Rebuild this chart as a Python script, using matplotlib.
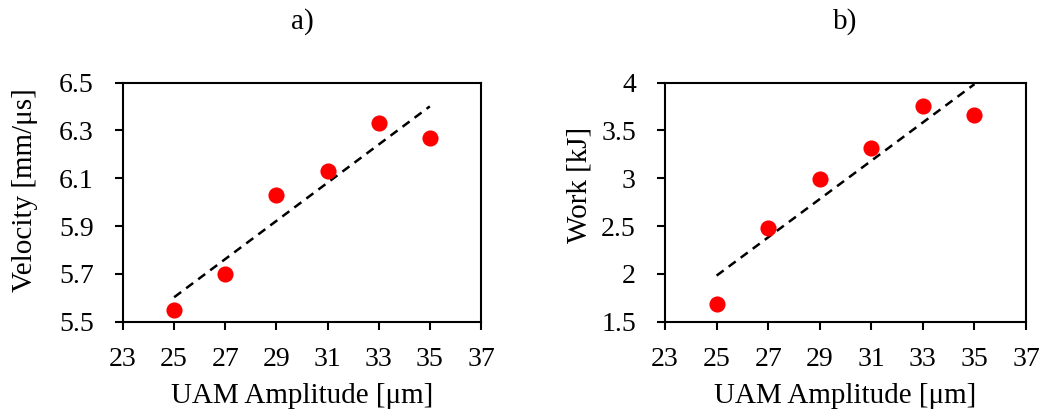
import numpy as np
import matplotlib.pyplot as plt
from matplotlib.ticker import FuncFormatter

# data
amplitude = [25, 27, 29, 31, 33, 35]
velocity = [5.55, 5.70, 6.03, 6.13, 6.33, 6.27]
work = [1.69, 2.48, 2.99, 3.32, 3.76, 3.66]

x_ticks = [23, 25, 27, 29, 31, 33, 35, 37]
vel_ticks = [5.5, 5.7, 5.9, 6.1, 6.3, 6.5]
work_ticks = [1.5, 2, 2.5, 3, 3.5, 4]

plt.rcParams['font.family'] = ['Liberation Serif', 'DejaVu Serif']

fig = plt.figure(figsize=(10.44, 4.16), dpi=100)
ax1 = fig.add_axes([0.1178, 0.2267, 0.3429, 0.5745])
ax2 = fig.add_axes([0.6370, 0.2267, 0.3458, 0.5745])

panels = [
    (ax1, velocity, vel_ticks, 'Velocity [mm/\u03bcs]', 'a)', (-0.237, 0.551)),
    (ax2, work, work_ticks, 'Work [kJ]', 'b)', (-0.202, 0.574)),
]

for ax, yvals, yticks, ylabel, tag, lab_pos in panels:
    # linear trend line
    k, b = np.polyfit(amplitude, yvals, 1)
    xs = np.array([amplitude[0], amplitude[-1]])
    ax.plot(xs, k * xs + b, color='black', lw=1.8, dashes=(3.5, 2.5), zorder=2)
    ax.scatter(amplitude, yvals, s=135, color='#ff0000', zorder=3, linewidths=0)

    ax.set_xlim(23, 37)
    ax.set_ylim(yticks[0], yticks[-1])
    ax.set_xticks(x_ticks)
    ax.set_yticks(yticks)
    ax.yaxis.set_major_formatter(FuncFormatter(lambda v, p: f'{v:g}'))
    ax.tick_params(direction='out', length=6, width=1.5, labelsize=20,
                   top=False, right=False)
    ax.tick_params(axis='x', pad=12)
    ax.tick_params(axis='y', pad=15)

    for sp in ax.spines.values():
        sp.set_linewidth(1.5)

    ax.set_xlabel('UAM Amplitude [\u03bcm]', fontsize=21, labelpad=8)
    ax.set_ylabel(ylabel, fontsize=21)
    ax.yaxis.set_label_coords(*lab_pos)

    pos = ax.get_position()
    fig.text((pos.x0 + pos.x1) / 2, 1 - 22 / 416, tag, fontsize=21,
             ha='center', va='center')

fig.savefig('out.png', dpi=100)
